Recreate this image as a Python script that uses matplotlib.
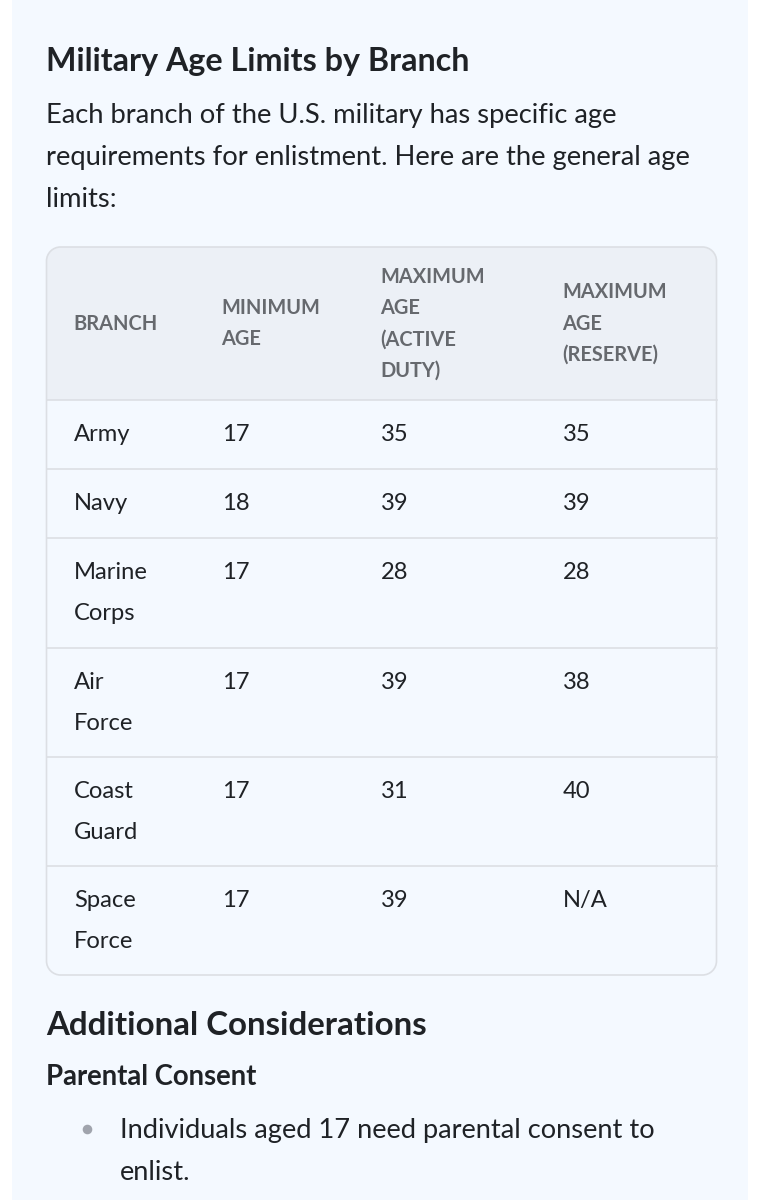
import matplotlib
matplotlib.use("Agg")
import matplotlib.pyplot as plt
from matplotlib.patches import Rectangle, Circle, PathPatch
from matplotlib.path import Path

title = "Military Age Limits by Branch"
intro = ["Each branch of the U.S. military has specific age",
         "requirements for enlistment. Here are the general age",
         "limits:"]
headers = [["BRANCH"], ["MINIMUM", "AGE"], ["MAXIMUM", "AGE", "(ACTIVE", "DUTY)"],
           ["MAXIMUM", "AGE", "(RESERVE)"]]
branches = [["Army"], ["Navy"], ["Marine", "Corps"], ["Air", "Force"], ["Coast", "Guard"], ["Space", "Force"]]
min_age = ["17", "18", "17", "17", "17", "17"]
max_active = ["35", "39", "28", "39", "31", "39"]
max_reserve = ["35", "39", "28", "38", "40", "N/A"]
heading2 = "Additional Considerations"
heading3 = "Parental Consent"
bullet = ["Individuals aged 17 need parental consent to", "enlist."]

FONT = "Lato"
W, H = 760, 1200
fig = plt.figure(figsize=(7.6, 12), dpi=100, facecolor="white")
ax = fig.add_axes([0, 0, 1, 1])
ax.set_xlim(0, W); ax.set_ylim(H, 0); ax.axis("off")

PANEL = "#f4f9ff"; HEAD = "#ecf0f6"; LINE = "#dcdfe4"; DARK = "#1f2226"; GREY = "#66696e"
ax.add_patch(Rectangle((12, -5), 736, 1210, fc=PANEL, ec="none"))

def txt(x, y, s, px, color=DARK, weight="normal"):
    ax.text(x, y + 0.33 * px, s, fontsize=px * 0.72, color=color, weight=weight,
            family=FONT, va="baseline", ha="left")

txt(46, 60, title, 32.3, DARK, "bold")
for y, s in zip([114, 156, 198], intro):
    txt(46, y, s, 27.4)

L, R, T, B = 46.5, 716.5, 247, 975
rad = 14
def rounded(L, R, T, B, r):
    k = 0.55 * r
    v = [(L + r, T), (R - r, T), (R - r + k, T), (R, T + r - k), (R, T + r), (R, B - r),
         (R, B - r + k), (R - r + k, B), (R - r, B), (L + r, B), (L + r - k, B), (L, B - r + k),
         (L, B - r), (L, T + r), (L, T + r - k), (L + r - k, T), (L + r, T), (L + r, T)]
    c = [Path.MOVETO, Path.LINETO, Path.CURVE4, Path.CURVE4, Path.CURVE4, Path.LINETO,
         Path.CURVE4, Path.CURVE4, Path.CURVE4, Path.LINETO, Path.CURVE4, Path.CURVE4, Path.CURVE4,
         Path.LINETO, Path.CURVE4, Path.CURVE4, Path.CURVE4, Path.CLOSEPOLY]
    return Path(v, c)

outline = rounded(L, R, T, B, rad)
clip = PathPatch(outline, fc="none", ec="none", transform=ax.transData)
ax.add_patch(clip)
head_rect = Rectangle((L, T), R - L, 400 - T, fc=HEAD, ec="none", zorder=1)
ax.add_patch(head_rect)
head_rect.set_clip_path(clip)

col_x = [74, 222, 381, 563]
hdr_center = 323
hdr_step = 31.3
for x, lines in zip(col_x, headers):
    n = len(lines)
    for i, s in enumerate(lines):
        txt(x - 0.5, hdr_center + (i - (n - 1) / 2) * hdr_step, s, 20, GREY, "bold")

row_bottom = [469, 538, 648, 757, 866, 975]
ax.plot([L, R], [400, 400], color=LINE, lw=1.2, zorder=2)
for y in row_bottom[:-1]:
    ax.plot([L, R], [y, y], color=LINE, lw=1.2, zorder=2)
ax.add_patch(PathPatch(outline, fc="none", ec=LINE, lw=1.2, zorder=3))

top = 400
for rb, br, a, b, c in zip(row_bottom, branches, min_age, max_active, max_reserve):
    y0 = top + 33.5
    for i, s in enumerate(br):
        txt(col_x[0], y0 + i * 41, s, 23.8)
    for x, s in zip(col_x[1:], [a, b, c]):
        txt(x, y0, s, 23.8)
    top = rb

txt(46, 1024, heading2, 33, DARK, "bold")
txt(46, 1076, heading3, 27.5, DARK, "bold")
ax.add_patch(Circle((87.5, 1129.5), 4.8, fc="#a0a4ad", ec="none"))
for y, s in zip([1129, 1171], bullet):
    txt(120, y, s, 27.3)

fig.savefig("out.png", dpi=100)
